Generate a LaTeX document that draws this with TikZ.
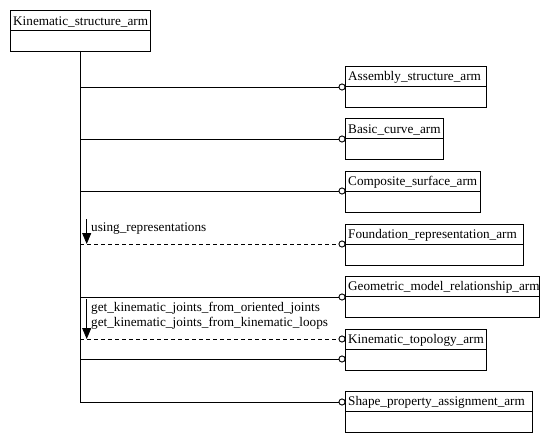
\documentclass[tikz,border=0pt]{standalone}
\usepackage{fontspec}
\setmainfont{Liberation Serif}
\usetikzlibrary{arrows.meta}
\tikzset{
  cls/.style={draw, line width=0.8pt, minimum height=41pt, inner sep=0pt, anchor=north west},
  lbl/.style={anchor=west, inner sep=0pt, font=\fontsize{13.2}{15}\selectfont},
  conn/.style={line width=0.8pt},
  dep/.style={conn, dash pattern=on 4pt off 3pt},
  endc/.style={draw, circle, minimum size=6pt, inner sep=0pt, fill=white, line width=0.8pt},
  arr/.style={conn, -{Triangle[length=11pt,width=9pt]}}
}
\newcommand\entbox[5]{%
  \node[cls, minimum width=#4pt] (#1) at (#2,#3) {};
  \draw[conn] ([yshift=-20.5pt]#1.north west) -- ([yshift=-20.5pt]#1.north east);
  \node[lbl] (#1t) at ([xshift=3pt,yshift=-11.5pt]#1.north west) {#5};}
\begin{document}
\begin{tikzpicture}[x=1pt,y=-1pt]
\useasboundingbox (0,0) rectangle (549,433);
\entbox{top}{10}{10}{140}{Kinematic\_structure\_arm}
\entbox{asm}{345}{66}{141}{Assembly\_structure\_arm}
\entbox{bcu}{345}{118}{98}{Basic\_curve\_arm}
\entbox{csu}{345}{171}{135}{Composite\_surface\_arm}
\entbox{fnd}{345}{224}{178}{Foundation\_representation\_arm}
\entbox{gmr}{345}{276}{194}{Geometric\_model\_relationship\_arm}
\entbox{kto}{345}{329}{141}{Kinematic\_topology\_arm}
\entbox{spa}{345}{391}{187}{Shape\_property\_assignment\_arm}
% trunk
\coordinate (tr0) at (80,51);
\coordinate (t1) at (80,87);
\coordinate (t2) at (80,139);
\coordinate (t3) at (80,191);
\coordinate (t4) at (80,244);
\coordinate (t5) at (80,297);
\coordinate (t6) at (80,339);
\coordinate (t7) at (80,359);
\coordinate (t8) at (80,402);
\node[endc] (c1) at (342,87) {};
\node[endc] (c2) at (342,139) {};
\node[endc] (c3) at (342,191) {};
\node[endc] (c4) at (342,244) {};
\node[endc] (c5) at (342,297) {};
\node[endc] (c6) at (342,339) {};
\node[endc] (c7) at (342,359) {};
\node[endc] (c8) at (342,402) {};
\draw[conn] (tr0) -- (t8) -- (c8);
\draw[conn] (t1) -- (c1);
\draw[conn] (t2) -- (c2);
\draw[conn] (t3) -- (c3);
\draw[dep] (t4) -- (c4);
\draw[conn] (t5) -- (c5);
\draw[dep] (t6) -- (c6);
\draw[conn] (t7) -- (c7);
% redraw circles on top
\foreach \c in {c1,c2,c3,c4,c5,c6,c7,c8} \node[endc] at (\c) {};
% arrows and labels
\coordinate (a1s) at (86.7,219);
\coordinate (a1e) at (86.7,244);
\draw[arr] (a1s) -- (a1e);
\node[lbl] (l1) at (91,228.5) {using\_representations};
\coordinate (a2s) at (86.7,299);
\coordinate (a2e) at (86.7,339);
\draw[arr] (a2s) -- (a2e);
\node[lbl, align=left] (l2) at (91,315.5) {get\_kinematic\_joints\_from\_oriented\_joints\\get\_kinematic\_joints\_from\_kinematic\_loops};
\end{tikzpicture}
\end{document}
